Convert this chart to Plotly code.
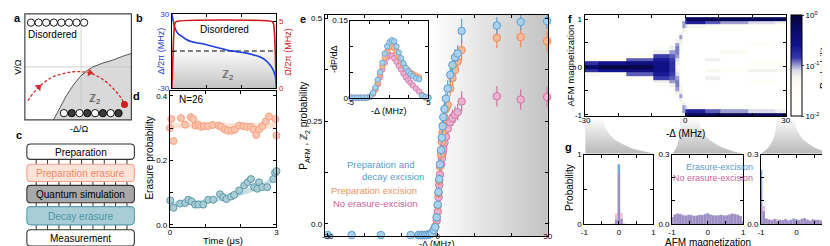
import numpy as np
import plotly.graph_objects as go

FONT = "Liberation Sans, Arial, sans-serif"
W_PX, H_PX = 830, 246

# ======================= DATA =======================
# (b) detuning and Rabi-frequency ramps
b_t_delta = [0, 0.04, 0.08, 0.14, 0.2, 0.28, 0.4, 0.57, 0.75, 0.93, 1.13, 1.35, 1.62, 1.85, 2.07, 2.3, 2.55, 2.7, 2.82, 2.9, 2.97, 3.0]
b_delta = [30, 24, 19.5, 15.5, 13.5, 12, 9.5, 7.5, 6.5, 5.5, 4, 2.5, 0.5, -0.5, -1.3, -2.8, -5.1, -7.8, -11.5, -15, -20.5, -29]
b_t_omega = [0, 0.02, 0.05, 0.08, 0.12, 2.88, 2.92, 2.95, 2.98, 3.0]
b_omega = [0, 1.5, 3.8, 4.8, 5, 5, 4.8, 3.8, 1.5, 0]

# (d) erasure probability vs time
d_t_orange = [0.0, 0.04, 0.1, 0.31, 0.43, 0.59, 0.66, 0.72, 0.8, 0.87, 0.96, 1.07, 1.2, 1.37, 1.44, 1.54, 1.63, 1.74, 1.83, 1.95,
              2.07, 2.17, 2.28, 2.35, 2.43, 2.51, 2.6, 2.7, 2.79, 2.97, 3.0]
d_orange = [0.30, 0.328, 0.26, 0.331, 0.311, 0.334, 0.328, 0.308, 0.311, 0.304, 0.306, 0.306, 0.31, 0.308, 0.304, 0.296, 0.292, 0.292, 0.296, 0.308,
            0.306, 0.304, 0.304, 0.296, 0.279, 0.296, 0.306, 0.321, 0.336, 0.328, 0.277]
d_t_teal = [0.01, 0.1, 0.29, 0.43, 0.52, 0.61, 0.71, 0.8, 0.94, 1.08, 1.22, 1.41, 1.5, 1.59, 1.72, 1.81, 1.95, 2.09, 2.19, 2.28,
            2.37, 2.46, 2.51, 2.6, 2.74, 2.91, 2.96, 3.0]
d_teal = [0.076, 0.053, 0.066, 0.068, 0.078, 0.073, 0.063, 0.063, 0.063, 0.078, 0.078, 0.095, 0.086, 0.08, 0.088, 0.093, 0.107, 0.122, 0.132, 0.142,
          0.117, 0.112, 0.132, 0.117, 0.117, 0.142, 0.162, 0.167]
d_fit_t_orange = [0.0, 3.0]
d_fit_orange_lo = [0.299, 0.299]
d_fit_orange_hi = [0.316, 0.316]
d_fit_t_teal = [0.0, 0.5, 1.0, 1.5, 2.0, 2.5, 3.0]
d_fit_teal_lo = [0.057, 0.060, 0.065, 0.075, 0.090, 0.110, 0.138]
d_fit_teal_hi = [0.071, 0.074, 0.079, 0.089, 0.104, 0.124, 0.152]

# (e) P_AFM vs -Delta
e_x_blue = [-30, -23.5, -15.5, -7.4, -5.2, -4.6, -4.1, -3.6, -3.1, -2.6, -2.1, -1.6, -1.1, -0.7, -0.3, 0.0, 0.2, 0.4, 0.6, 0.9,
            1.1, 1.3, 1.5, 1.8, 2.2, 2.7, 3.4, 4.0, 4.7, 5.4, 6.5, 16.1, 22.6, 29.8]
e_blue = [-0.027, -0.027, -0.027, -0.027, -0.027, -0.027, -0.027, -0.027, -0.027, -0.026, -0.025, -0.023, -0.015, -0.008, 0.016, 0.047, 0.078, 0.109, 0.145, 0.18,
          0.21, 0.238, 0.26, 0.28, 0.305, 0.33, 0.363, 0.387, 0.406, 0.415, 0.470, 0.483, 0.492, 0.494]
e_blue_err = [0, 0, 0, 0, 0, 0, 0, 0, 0, 0.004, 0.005, 0.006, 0.008, 0.008, 0.01, 0.01, 0.012, 0.012, 0.015, 0.015,
              0.015, 0.015, 0.015, 0.015, 0.015, 0.02, 0.02, 0.02, 0.02, 0.02, 0.03, 0.02, 0.02, 0.02]
e_x_other = [-5.2, -4.6, -4.1, -3.6, -3.1, -2.6, -2.1, -1.6, -1.1, -0.7, -0.3, 0.0, 0.2, 0.4, 0.6, 0.9,
             1.1, 1.3, 1.5, 1.8, 2.2, 2.7, 3.4, 4.0, 4.7, 5.4, 6.5, 16.1, 22.6, 29.8]
e_orange = [-0.027, -0.027, -0.027, -0.027, -0.027, -0.026, -0.025, -0.022, -0.014, -0.006, 0.016, 0.045, 0.075, 0.105, 0.14, 0.17,
            0.2, 0.222, 0.24, 0.26, 0.28, 0.29, 0.33, 0.355, 0.375, 0.395, 0.423, 0.453, 0.455, 0.445]
e_orange_err = [0, 0, 0, 0, 0, 0.004, 0.005, 0.006, 0.008, 0.008, 0.01, 0.01, 0.012, 0.012, 0.015, 0.015,
                0.015, 0.015, 0.015, 0.018, 0.018, 0.02, 0.02, 0.02, 0.02, 0.02, 0.025, 0.025, 0.025, 0.025]
e_pink = [-0.027, -0.027, -0.027, -0.027, -0.027, -0.026, -0.025, -0.022, -0.016, -0.008, 0.008, 0.03, 0.065, 0.095, 0.12, 0.145,
          0.16, 0.172, 0.183, 0.198, 0.212, 0.232, 0.248, 0.258, 0.266, 0.272, 0.298, 0.311, 0.303, 0.309]
e_pink_err = [0, 0, 0, 0, 0, 0.004, 0.005, 0.006, 0.008, 0.008, 0.01, 0.01, 0.012, 0.012, 0.015, 0.015,
              0.015, 0.015, 0.015, 0.018, 0.018, 0.02, 0.02, 0.02, 0.02, 0.02, 0.025, 0.025, 0.025, 0.025]

# (e inset) -dP/dDelta
ins_x = [-4.9, -4.5, -4.1, -3.7, -3.3, -2.9, -2.5, -2.1, -1.8, -1.5, -1.2, -0.9, -0.6, -0.3, 0.0, 0.3, 0.6, 0.9, 1.2, 1.5,
         1.8, 2.1, 2.4, 2.7, 3.0, 3.4, 3.8, 4.2, 4.6, 5.0]
ins_blue = [0, 0, 0, 0, 0, 0, 0.002, 0.01, 0.02, 0.035, 0.05, 0.068, 0.086, 0.1, 0.108, 0.112, 0.11, 0.1, 0.088, 0.077,
            0.067, 0.058, 0.051, 0.046, 0.042, 0.038, 0.036, 0.004, 0.001, 0]
ins_orange = [0, 0, 0, 0, 0, 0, 0.002, 0.008, 0.017, 0.03, 0.045, 0.062, 0.078, 0.09, 0.098, 0.1, 0.097, 0.09, 0.08, 0.072,
              0.064, 0.058, 0.053, 0.049, 0.046, 0.043, 0.04, 0.004, 0.001, 0]
ins_pink = [0, 0, 0, 0, 0, 0, 0.002, 0.008, 0.016, 0.026, 0.04, 0.055, 0.068, 0.078, 0.083, 0.082, 0.077, 0.07, 0.062, 0.055,
            0.047, 0.04, 0.034, 0.029, 0.024, 0.018, 0.012, 0.005, 0.001, 0]

# (f) AFM magnetization histogram map (log10 probability), one list per detuning column
mag = [-1.0, -0.923, -0.846, -0.769, -0.692, -0.615, -0.538, -0.462, -0.385, -0.308, -0.231, -0.154, -0.077, 0.0,
       0.077, 0.154, 0.231, 0.308, 0.385, 0.462, 0.538, 0.615, 0.692, 0.769, 0.846, 0.923, 1.0]
f_edges = [-31, -26, -17.5, -9.5, -4.8, -3.0, -1.8, -0.8, 0.0, 0.6, 6.0, 10.5, 18.7, 27.0, 31.0]
f_col01 = [-2.4, -2.4, -2.4, -2.4, -2.4, -2.4, -2.4, -2.4, -2.4, -2.4, -2.4, -1.3, -0.8, -0.3, -0.8, -1.3, -2.4, -2.4, -2.4, -2.4, -2.4, -2.4, -2.4, -2.4, -2.4, -2.4, -2.4]
f_col02 = [-2.4, -2.4, -2.4, -2.4, -2.4, -2.4, -2.4, -2.4, -2.4, -2.4, -2.4, -1.5, -0.6, -0.05, -0.6, -1.5, -2.4, -2.4, -2.4, -2.4, -2.4, -2.4, -2.4, -2.4, -2.4, -2.4, -2.4]
f_col03 = [-2.4, -2.4, -2.4, -2.4, -2.4, -2.4, -2.4, -2.4, -2.4, -2.4, -1.5, -0.9, -0.45, -0.1, -0.45, -0.9, -1.5, -2.4, -2.4, -2.4, -2.4, -2.4, -2.4, -2.4, -2.4, -2.4, -2.4]
f_col04 = [-2.4, -2.4, -2.4, -2.4, -2.4, -2.4, -2.4, -2.4, -1.6, -1.2, -0.85, -0.65, -0.55, -0.5, -0.55, -0.65, -0.85, -1.2, -1.6, -2.4, -2.4, -2.4, -2.4, -2.4, -2.4, -2.4, -2.4]
f_col05 = [-2.4, -2.4, -2.4, -2.4, -2.4, -2.4, -1.9, -1.5, -1.2, -1.0, -0.9, -0.85, -0.8, -0.8, -0.8, -0.85, -0.9, -1.0, -1.2, -1.5, -1.9, -2.4, -2.4, -2.4, -2.4, -2.4, -2.4]
f_col06 = [-2.4, -2.4, -2.4, -2.4, -2.0, -1.6, -1.2, -1.0, -0.95, -0.95, -1.0, -1.1, -1.2, -1.3, -1.2, -1.1, -1.0, -0.95, -0.95, -1.0, -1.2, -1.6, -2.0, -2.4, -2.4, -2.4, -2.4]
f_col07 = [-2.4, -2.4, -2.0, -1.6, -1.2, -1.0, -1.2, -1.3, -1.4, -1.6, -1.6, -1.6, -1.6, -1.6, -1.6, -1.6, -1.6, -1.6, -1.4, -1.3, -1.2, -1.0, -1.2, -1.6, -2.0, -2.4, -2.4]
f_col08 = [-1.3, -1.0, -1.0, -1.2, -1.5, -1.8, -1.8, -1.8, -1.8, -1.8, -1.8, -1.8, -1.8, -1.8, -1.8, -1.8, -1.8, -1.8, -1.8, -1.8, -1.8, -1.8, -1.5, -1.2, -1.0, -1.0, -1.3]
f_col09 = [-0.4, -0.8, -1.1, -1.5, -2.0, -2.0, -2.0, -2.0, -2.0, -2.0, -2.0, -2.0, -2.0, -2.0, -2.0, -2.0, -2.0, -2.0, -2.0, -2.0, -2.0, -2.0, -2.0, -1.5, -1.1, -0.8, -0.4]
f_col10 = [-0.2, -0.7, -1.3, -1.7, -2.1, -2.1, -2.1, -2.1, -2.1, -2.1, -2.1, -2.1, -2.1, -2.1, -2.1, -2.1, -2.1, -2.1, -2.1, -2.1, -2.1, -2.1, -2.1, -1.7, -1.3, -0.7, -0.2]
f_col11 = [-0.15, -0.9, -1.5, -2.0, -2.0, -2.0, -2.0, -2.0, -2.0, -2.0, -1.2, -2.0, -1.3, -2.0, -2.0, -1.2, -2.0, -2.0, -2.0, -2.0, -2.0, -2.0, -2.0, -2.0, -1.5, -0.9, -0.15]
f_col12 = [-0.15, -1.0, -1.6, -2.0, -2.0, -2.0, -2.0, -2.0, -2.0, -2.0, -2.0, -2.0, -1.5, -2.0, -2.0, -2.0, -2.0, -1.4, -2.0, -2.0, -2.0, -2.0, -2.0, -2.0, -1.6, -1.0, -0.15]
f_col13 = [-0.2, -1.1, -1.7, -2.0, -2.0, -2.0, -2.0, -2.0, -2.0, -1.6, -2.0, -2.0, -1.2, -2.0, -1.6, -2.0, -2.0, -2.0, -2.0, -1.6, -2.0, -2.0, -2.0, -2.0, -1.7, -1.1, -0.2]
f_col14 = [-0.2, -1.2, -1.8, -2.0, -2.0, -2.0, -2.0, -2.0, -2.0, -2.0, -2.0, -2.0, -1.4, -2.0, -1.5, -2.0, -2.0, -2.0, -2.0, -2.0, -2.0, -2.0, -2.0, -2.0, -1.8, -1.2, -0.2]

# (g) histograms at three detunings
g1_blue = [0, 0, 0, 0, 0, 0, 0, 0, 0, 0, 0, 0, 0.06, 0.86, 0.07, 0, 0, 0, 0, 0, 0, 0, 0, 0, 0, 0, 0]
g1_pink = [0, 0, 0, 0, 0, 0, 0, 0, 0, 0, 0, 0.01, 0.15, 0.72, 0.16, 0.01, 0, 0, 0, 0, 0, 0, 0, 0, 0, 0, 0]
g2_blue = [0.030, 0.040, 0.044, 0.042, 0.038, 0.036, 0.040, 0.038, 0.034, 0.036, 0.040, 0.038, 0.042, 0.046, 0.040, 0.038, 0.036, 0.038, 0.040, 0.036, 0.038, 0.040, 0.044, 0.042, 0.040, 0.034, 0.012]
g2_pink = [0.028, 0.042, 0.046, 0.044, 0.040, 0.038, 0.038, 0.040, 0.036, 0.038, 0.038, 0.040, 0.040, 0.044, 0.042, 0.036, 0.038, 0.036, 0.038, 0.038, 0.036, 0.042, 0.046, 0.044, 0.038, 0.036, 0.008]
g3_blue = [0.235, 0.055, 0.022, 0.018, 0.016, 0.020, 0.014, 0.018, 0.016, 0.020, 0.014, 0.018, 0.024, 0.020, 0.016, 0.022, 0.026, 0.018, 0.014, 0.020, 0.016, 0.018, 0.014, 0.020, 0.024, 0.030, 0.265]
g3_pink = [0.150, 0.078, 0.024, 0.020, 0.018, 0.022, 0.020, 0.016, 0.018, 0.022, 0.018, 0.016, 0.020, 0.018, 0.018, 0.020, 0.024, 0.020, 0.016, 0.018, 0.020, 0.016, 0.018, 0.022, 0.030, 0.050, 0.205]

# ======================= COLOURS =======================
BLUE_F, BLUE_L = '#a9d1ee', '#5e9fd0'
ORG_F, ORG_L = '#fab996', '#f08a58'
PINK_F, PINK_L = '#ebb1cf', '#d472a4'
DOR_F, DOR_L = '#fdc5ad', '#f8a384'
TEAL_F, TEAL_L = '#a9cdd5', '#5e9aab'


def dom_x(a, b):
    return [a / W_PX, b / W_PX]


def dom_y(top, bot):
    return [1 - bot / H_PX, 1 - top / H_PX]


def axstyle(**kw):
    d = dict(showline=True, linecolor='black', linewidth=1, mirror='ticks',
             ticks='inside', ticklen=3, tickwidth=1, tickcolor='black',
             showgrid=False, zeroline=False, fixedrange=True,
             tickfont=dict(size=8, color='black', family=FONT))
    d.update(kw)
    return d


fig = go.Figure()
ann = []
shapes = []


def text(x, y, s, size=9, color='black', angle=0, xanchor='center', yanchor='middle', bold=False):
    ann.append(dict(x=x, y=y, xref='x', yref='y', text=(f'<b>{s}</b>' if bold else s), showarrow=False,
                    font=dict(size=size, color=color, family=FONT), textangle=angle,
                    xanchor=xanchor, yanchor=yanchor))


def ov(**kw):
    kw.setdefault('xaxis', 'x')
    kw.setdefault('yaxis', 'y')
    kw.setdefault('hoverinfo', 'skip')
    kw.setdefault('showlegend', False)
    fig.add_trace(go.Scatter(**kw))


# ======================= PANEL a (schematic, pixel units) =======================
a_bx = [40, 47, 53, 60, 67, 74, 80, 90, 100, 110, 119]
a_by = [112, 99, 87, 76, 67, 61, 57, 53, 50, 46, 43]
ov(x=a_bx + [119, 40], y=a_by + [112, 112], mode='lines', fill='toself', fillcolor='#d9d9d9', line=dict(width=0))
ov(x=[68, 68], y=[2, 112], mode='lines', line=dict(color='#c4c4c4', width=0.8))
ov(x=[11, 119], y=[57, 57], mode='lines', line=dict(color='#c4c4c4', width=0.8))
ov(x=a_bx, y=a_by, mode='lines', line=dict(color='#555555', width=1))
arc_x = [14, 19, 25, 32, 40, 50, 60, 68, 76, 85, 94, 101, 107, 111]
arc_y = [92, 85, 78, 72, 67, 64, 62, 62, 63, 67, 73, 80, 87, 94]
ov(x=arc_x, y=arc_y, mode='lines', line=dict(color='#d42a2a', width=1.3, dash='3px,2px', shape='spline'))
ov(x=[25, 77], y=[78, 63], mode='markers', marker=dict(symbol='triangle-up', size=7, color='#d42a2a', angle=[45, 100]))
ov(x=[112], y=[96], mode='markers', marker=dict(size=7, color='#d01c1c'))
ov(x=[17.2, 24.9, 32.6, 40.3, 48.0, 55.7, 63.4, 71.1], y=[11] * 8, mode='markers',
   marker=dict(size=7.3, color='white', line=dict(color='black', width=0.9)))
ov(x=[50.6, 58.5, 66.4, 74.3, 82.2, 90.1, 98.0, 105.9], y=[105] * 8, mode='markers',
   marker=dict(size=7.3, color=['white', '#3a3a3a'] * 4, line=dict(color='black', width=0.9)))
shapes.append(dict(type='rect', xref='x', yref='y', x0=11, x1=119, y0=2, y1=112, line=dict(color='#444', width=1.2)))
text(39, 23, 'Disordered', size=10)
text(82, 90, 'ℤ<sub>2</sub>', size=11, color='#333')
text(4, 57, 'V/Ω', size=9, angle=-90)
text(66, 121, '-Δ/Ω', size=9)

# ======================= PANEL c (schematic) =======================
for xl in [22.5, 34, 45.5, 57, 68.5, 80, 91.5, 103, 114.5]:
    shapes.append(dict(type='line', xref='x', yref='y', x0=xl, x1=xl, y0=140, y1=240, line=dict(color='#333', width=1)))


def rbox(x0, y0, x1, y1, r=4):
    return (f'M{x0 + r},{y0} L{x1 - r},{y0} Q{x1},{y0} {x1},{y0 + r} L{x1},{y1 - r} Q{x1},{y1} {x1 - r},{y1} '
            f'L{x0 + r},{y1} Q{x0},{y1} {x0},{y1 - r} L{x0},{y0 + r} Q{x0},{y0} {x0 + r},{y0} Z')


c_boxes = [('Preparation', 137, 153, 'white', '#333333', 'black'),
           ('Preparation erasure', 158, 176, '#fde3d8', '#f4a48a', '#f28c68'),
           ('Quantum simulation', 180, 198, '#a8a8a8', '#333333', 'black'),
           ('Decay erasure', 202, 221, '#a9cdd6', '#5f9eb0', '#4a95ab'),
           ('Measurement', 226, 243, 'white', '#333333', 'black')]
for lbl, y0, y1, fc, lc, tc in c_boxes:
    shapes.append(dict(type='path', xref='x', yref='y', path=rbox(13, y0, 122, y1), fillcolor=fc, line=dict(color=lc, width=1.1)))
    text(67.5, (y0 + y1) / 2 + 0.5, lbl, size=10, color=tc)

# ======================= wedges between f and g =======================
def qcurve(p0, c, p1, n=12):
    t = np.linspace(0, 1, n)
    xs = (1 - t) ** 2 * p0[0] + 2 * (1 - t) * t * c[0] + t ** 2 * p1[0]
    ys = (1 - t) ** 2 * p0[1] + 2 * (1 - t) * t * c[1] + t ** 2 * p1[1]
    return list(xs), list(ys)


for (tl, tr), (bl, br) in [((579, 597), (579, 648)), ((676, 694), (667, 739)), ((773, 791), (757, 829))]:
    lx, ly = qcurve((tl, 109), (tl, 138), (bl, 147))
    rx, ry = qcurve((br, 147), (tr, 138), (tr, 109))
    ov(x=lx + rx, y=ly + ry, mode='lines', fill='toself', line=dict(width=0),
       fillgradient=dict(type='vertical', colorscale=[[0, '#b8b8b8'], [1, '#ffffff']]))

# ======================= PANEL b =======================
fig.add_trace(go.Scatter(x=[0, 3, 3, 0], y=[0, 0, -30, -30], xaxis='x2', yaxis='y2', mode='lines', fill='toself',
                         line=dict(width=0), fillgradient=dict(type='vertical', colorscale=[[0, '#c4c4c4'], [1, '#fbfbfb']]),
                         hoverinfo='skip', showlegend=False))
fig.add_trace(go.Scatter(x=[0, 3], y=[0, 0], xaxis='x2', yaxis='y2', mode='lines',
                         line=dict(color='#555', width=1.4, dash='5px,3px'), hoverinfo='skip', showlegend=False))
fig.add_trace(go.Scatter(x=b_t_delta, y=b_delta, xaxis='x2', yaxis='y2', mode='lines',
                         line=dict(color='#1f3fe0', width=1.6, shape='spline', smoothing=0.6), showlegend=False))
fig.add_trace(go.Scatter(x=b_t_omega, y=b_omega, xaxis='x2', yaxis='y3', mode='lines',
                         line=dict(color='#d0161b', width=1.6, shape='spline', smoothing=0.5), showlegend=False))
text(213, 18, 'Disordered', size=10)
text(216, 65, 'ℤ<sub>2</sub>', size=11, color='#444')
text(148, 41, 'Δ/2π (MHz)', size=9, color='#2341d9', angle=-90)
text(278, 42, 'Ω/2π (MHz)', size=9, color='#d0161b', angle=-90)

# ======================= PANEL d =======================
fig.add_trace(go.Scatter(x=d_fit_t_orange + d_fit_t_orange[::-1], y=d_fit_orange_hi + d_fit_orange_lo[::-1],
                         xaxis='x4', yaxis='y4', mode='lines', fill='toself', fillcolor='#fde2d6',
                         line=dict(width=0), hoverinfo='skip', showlegend=False))
fig.add_trace(go.Scatter(x=d_fit_t_teal + d_fit_t_teal[::-1], y=d_fit_teal_hi + d_fit_teal_lo[::-1],
                         xaxis='x4', yaxis='y4', mode='lines', fill='toself', fillcolor='#c3dee5',
                         line=dict(width=0), hoverinfo='skip', showlegend=False))
fig.add_trace(go.Scatter(x=d_t_orange, y=d_orange, xaxis='x4', yaxis='y4', mode='markers', cliponaxis=False,
                         error_y=dict(type='constant', value=0.012, thickness=1, width=0, color=DOR_L),
                         marker=dict(size=7, color=DOR_F, line=dict(color=DOR_L, width=1)), showlegend=False))
fig.add_trace(go.Scatter(x=d_t_teal, y=d_teal, xaxis='x4', yaxis='y4', mode='markers', cliponaxis=False,
                         error_y=dict(type='constant', value=0.008, thickness=1, width=0, color=TEAL_L),
                         marker=dict(size=7, color=TEAL_F, line=dict(color=TEAL_L, width=1)), showlegend=False))
text(165, 91, 'N=26', size=10, xanchor='left')
text(137, 152, 'Erasure probability', size=10, angle=-90)
text(212, 237.5, 'Time (μs)', size=9.5)

# ======================= PANEL e =======================
fig.add_trace(go.Scatter(x=[-2, 30.5, 30.5, -2], y=[-0.05, -0.05, 0.52, 0.52], xaxis='x5', yaxis='y5', mode='lines',
                         fill='toself', line=dict(width=0),
                         fillgradient=dict(type='horizontal', colorscale=[[0, '#ffffff'], [1, '#c2c2c2']]),
                         hoverinfo='skip', showlegend=False))
for xs, ys, errs, fc, lc in [(e_x_other, e_pink, e_pink_err, PINK_F, PINK_L),
                             (e_x_other, e_orange, e_orange_err, ORG_F, ORG_L),
                             (e_x_blue, e_blue, e_blue_err, BLUE_F, BLUE_L)]:
    fig.add_trace(go.Scatter(x=xs, y=ys, xaxis='x5', yaxis='y5', mode='markers', cliponaxis=False,
                             error_y=dict(type='data', array=errs, thickness=1.2, width=0, color=lc),
                             marker=dict(size=7.5, color=fc, line=dict(color=lc, width=1)), showlegend=False))
text(294, 118, 'P<sub>AFM</sub> , ℤ<sub>2</sub> probability', size=10, angle=-90)
text(429, 240.5, '-Δ (MHz)', size=9)
text(408, 158, 'Preparation and', size=9.5, color='#5b9bd0', xanchor='right')
text(418, 171, 'decay excision', size=9.5, color='#5b9bd0', xanchor='right')
text(410, 185, 'Preparation excision', size=9.5, color='#f4925e', xanchor='right')
text(410, 199, 'No erasure-excision', size=9.5, color='#cf5f9a', xanchor='right')

# inset
for ys, fc, lc in [(ins_pink, PINK_F, PINK_L), (ins_orange, ORG_F, ORG_L), (ins_blue, BLUE_F, BLUE_L)]:
    fig.add_trace(go.Scatter(x=ins_x, y=ys, xaxis='x6', yaxis='y6', mode='markers', cliponaxis=False,
                             marker=dict(size=5.5, color=fc, line=dict(color=lc, width=0.8)), showlegend=False))
text(325, 49, '-dP/dΔ', size=9, angle=-90)
text(380, 103, '-Δ (MHz)', size=9)

# ======================= PANEL f =======================
f_cols = [f_col01, f_col02, f_col03, f_col04, f_col05, f_col06, f_col07,
          f_col08, f_col09, f_col10, f_col11, f_col12, f_col13, f_col14]
f_z = np.array(f_cols).T
f_cs = [[0.0, '#ffffff'], [0.25, '#fefef6'], [0.38, '#f6f6ee'], [0.45, '#dcdce9'], [0.5, '#9d9dd2'],
        [0.58, '#3434aa'], [0.7, '#12128e'], [0.85, '#0b0b6c'], [1.0, '#06063a']]
fig.add_trace(go.Heatmap(x=f_edges, y=mag, z=f_z, xaxis='x7', yaxis='y7', zmin=-2, zmax=0, colorscale=f_cs,
                         zsmooth=False, hoverinfo='skip',
                         colorbar=dict(x=787.3 / W_PX, xanchor='left', xpad=0, ypad=0, thickness=11, thicknessmode='pixels',
                                       len=105 / H_PX, lenmode='fraction', y=1 - 55.8 / H_PX, yanchor='middle',
                                       outlinewidth=1, outlinecolor='black', tickvals=[-2, -1, 0],
                                       ticktext=['10<sup>-2</sup>', '10<sup>-1</sup>', '10<sup>0</sup>'],
                                       ticks='outside', ticklen=2, tickfont=dict(size=8, family=FONT))))
text(822, 56, 'Probability', size=10, angle=-90)
text(564, 56, 'AFM magnetization', size=9.5, angle=-90)
text(681, 126, '-Δ (MHz)', size=10)

# ======================= PANEL g =======================
for (bl, pk), (xa, ya) in zip([(g1_blue, g1_pink), (g2_blue, g2_pink), (g3_blue, g3_pink)],
                              [('x8', 'y8'), ('x9', 'y9'), ('x10', 'y10')]):
    fig.add_trace(go.Bar(x=mag, y=bl, width=0.072, xaxis=xa, yaxis=ya, marker=dict(color='rgba(92,155,212,0.88)', line=dict(width=0)),
                         hoverinfo='skip', showlegend=False))
    fig.add_trace(go.Bar(x=mag, y=pk, width=0.072, xaxis=xa, yaxis=ya, marker=dict(color='rgba(214,112,168,0.45)', line=dict(width=0)),
                         hoverinfo='skip', showlegend=False))
text(751, 161, 'Erasure-excision', size=9, color='#5b9bd0', xanchor='right')
text(751, 172, 'No erasure-excision', size=9, color='#cf5f9a', xanchor='right')
text(563, 182, 'Probability', size=10, angle=-90)
text(703, 239, 'AFM magnetization', size=10)

# panel letters
for s, x, y in [('a', 4, 6), ('b', 127, 6), ('c', 5, 128), ('d', 124, 87), ('e', 293, 7), ('f', 563, 7), ('g', 562, 140)]:
    text(x, y, s, size=11, bold=True)

# ======================= LAYOUT =======================
mag_ticks = dict(tickvals=[-1, -0.5, 0, 0.5, 1], ticktext=['-1', '', '0', '', '1'])
layout = dict(
    width=W_PX, height=H_PX, margin=dict(l=0, r=0, t=0, b=0), paper_bgcolor='white', plot_bgcolor='rgba(0,0,0,0)',
    font=dict(family=FONT, size=9, color='black'), showlegend=False, barmode='overlay',
    xaxis=dict(domain=[0, 1], range=[0, W_PX], visible=False, fixedrange=True),
    yaxis=dict(domain=[0, 1], range=[H_PX, 0], visible=False, fixedrange=True),
    xaxis2=axstyle(domain=dom_x(160, 266), anchor='y2', range=[0, 3], tickvals=[1, 2], showticklabels=False),
    yaxis2=axstyle(domain=dom_y(2, 79), anchor='x2', range=[-30, 30], tickvals=[-30, 0, 30], ticktext=['-30', '', '30'],
                   mirror=False, tickfont=dict(size=8, color='#2341d9', family=FONT)),
    yaxis3=axstyle(overlaying='y2', side='right', anchor='x2', range=[0, 5.58], tickvals=[0, 5], mirror=False,
                   tickfont=dict(size=8, color='#d0161b', family=FONT)),
    xaxis4=axstyle(domain=dom_x(158, 266), anchor='y4', range=[0, 3], tickvals=[0, 1, 2, 3], ticktext=['0', '', '', '3'],
                   ticklabelstandoff=-2),
    yaxis4=axstyle(domain=dom_y(82, 223), anchor='x4', range=[-0.006, 0.415], tickvals=[0, 0.1, 0.2, 0.3, 0.4],
                   ticktext=['0.0', '', '0.2', '', '0.4']),
    xaxis5=axstyle(domain=dom_x(315, 541), anchor='y5', range=[-30.8, 30], tickvals=[-30, -20, -10, 0, 10, 20, 30],
                   ticktext=['-30', '', '', '0', '', '', '30'], ticklabelstandoff=-8),
    yaxis5=axstyle(domain=dom_y(3, 233), anchor='x5', range=[-0.0305, 0.509], tickvals=[0, 0.125, 0.25, 0.375, 0.5],
                   ticktext=['0.0', '', '0.25', '', '0.5']),
    xaxis6=axstyle(domain=dom_x(341, 420), anchor='y6', range=[-5, 5], tickvals=[-5, -2.5, 0, 2.5, 5],
                   ticktext=['-5', '', '', '', '5'], ticklabelstandoff=-3),
    yaxis6=axstyle(domain=dom_y(9, 89), anchor='x6', range=[0, 0.15], tickvals=[0, 0.05, 0.1, 0.15],
                   ticktext=['0', '', '', '0.15']),
    xaxis7=axstyle(domain=dom_x(578.3, 782.7), anchor='y7', range=[-30, 30.2], tickvals=[-30, -20, -10, 0, 10, 20, 30],
                   ticktext=['-30', '', '', '0', '', '', '30'], ticklabelstandoff=-4),
    yaxis7=axstyle(domain=dom_y(3.3, 108.3), anchor='x7', range=[-1.032, 1.08], **mag_ticks),
    xaxis8=axstyle(domain=dom_x(578, 648), anchor='y8', range=[-1, 1], **mag_ticks),
    yaxis8=axstyle(domain=dom_y(148, 220), anchor='x8', range=[0, 1], tickvals=[0, 0.5, 1], ticktext=['0', '', '1']),
    xaxis9=axstyle(domain=dom_x(667, 739), anchor='y9', range=[-1, 1], **mag_ticks),
    yaxis9=axstyle(domain=dom_y(148, 220), anchor='x9', range=[0, 0.3], tickvals=[0, 0.1, 0.2, 0.3],
                   ticktext=['0.0', '', '', '0.3']),
    xaxis10=axstyle(domain=dom_x(757, 829), anchor='y10', range=[-1, 1], **mag_ticks),
    yaxis10=axstyle(domain=dom_y(148, 220), anchor='x10', range=[0, 0.3], tickvals=[0, 0.1, 0.2, 0.3],
                    ticktext=['0.0', '', '', '0.3']),
    annotations=ann, shapes=shapes,
)
fig.update_layout(**layout)
fig.write_html("out.html")
